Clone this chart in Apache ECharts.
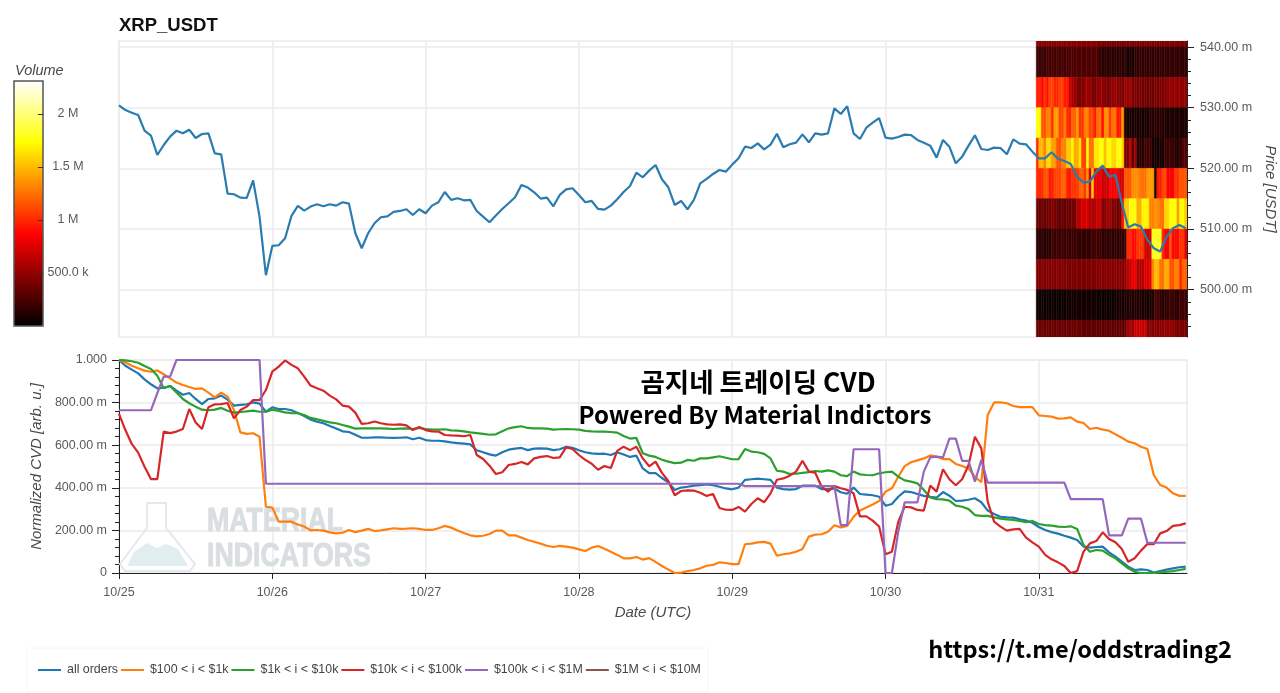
<!DOCTYPE html>
<html>
<head>
<meta charset="utf-8">
<style>html,body{margin:0;padding:0;background:#fff}#chart{width:1280px;height:693px}</style>
<script src="https://cdn.jsdelivr.net/npm/echarts@6/dist/echarts.min.js"></script>
</head>
<body>
<div id="chart"></div>
<script>
const T0 = Date.UTC(2024, 9, 25);
const HOUR = 3600000;
const DAY = 24 * HOUR;
const TEND = T0 + 167.2 * HOUR;
const days = [0, 1, 2, 3, 4, 5, 6].map(d => T0 + d * DAY);

// hourly price, milli USDT
const price = [530.39,529.62,529.18,528.80,526.22,525.39,522.21,523.85,525.23,526.22,525.78,526.38,525.01,525.67,525.78,522.48,522.32,515.84,515.73,515.18,515.12,518.03,512.05,502.38,
  507.22,507.33,508.48,512.16,513.81,513.04,513.70,514.08,513.75,514.08,513.86,514.41,514.19,509.30,506.83,509.30,510.95,511.94,512.10,512.82,512.98,513.26,512.32,513.26,
  512.60,513.86,514.41,516.11,514.80,515.07,514.74,514.80,512.98,512.05,511.12,512.22,513.31,514.25,515.24,517.27,516.83,516.06,515.02,515.18,513.75,515.62,516.55,516.72,
  515.62,514.41,514.63,513.31,513.20,513.86,514.91,516.11,517.10,519.30,518.53,519.63,520.56,518.20,516.88,513.97,514.63,513.26,514.80,517.54,518.26,519.08,519.74,519.46,
  520.62,521.66,523.58,523.36,524.13,523.14,523.91,525.72,523.47,523.97,524.24,525.61,524.30,525.78,525.56,525.78,529.90,528.96,530.23,525.78,524.84,526.71,527.54,528.30,
  525.06,524.90,525.17,525.56,525.50,524.68,524.24,523.75,521.77,524.68,523.58,520.84,521.93,523.75,525.45,523.20,523.03,523.42,523.36,522.32,524.79,524.08,523.97,522.76,
  521.66,521.66,522.65,521.60,521.22,520.73,518.64,517.65,517.82,519.46,520.45,518.64,518.91,514.25,510.24,510.79,510.40,508.21,506.83,506.28,508.76,510.13,510.68,510.13];

// normalized CVD, hourly, milli units
const allOrders = [1000,973,955,937,909,886,867,870,878,856,837,845,817,793,817,820,833,814,786,789,792,801,795,757,
  778,770,770,764,751,737,720,710,703,690,678,665,662,649,635,635,637,637,635,634,635,637,628,635,
  624,621,621,618,613,610,607,604,576,567,557,551,567,579,584,587,577,584,585,584,577,581,592,588,
  576,567,562,559,560,554,567,556,545,551,491,469,469,446,426,390,401,405,410,413,416,412,405,397,
  393,401,437,440,443,440,437,401,394,391,394,410,410,410,394,394,397,379,372,401,371,368,365,358,
  316,324,358,383,380,371,362,357,354,380,363,338,340,344,351,332,293,277,264,261,260,252,246,236,
  216,202,192,185,175,166,155,124,119,122,124,97,77,53,30,14,17,14,2,9,16,22,27,30];
const o100 = [1000,989,973,961,950,945,951,933,914,894,883,873,864,867,847,825,847,828,765,660,653,656,640,311,
  307,241,241,241,228,218,200,202,199,191,186,189,202,192,199,207,197,200,205,210,207,208,210,207,
  202,202,210,221,213,200,188,177,172,175,183,199,199,177,177,166,155,147,138,128,122,127,124,119,
  111,103,119,127,114,100,85,69,69,75,63,70,52,33,16,0,2,9,14,22,34,38,50,47,
  42,42,135,138,144,146,138,81,88,92,100,113,171,180,182,194,224,214,221,264,293,308,322,338,
  382,398,452,502,520,529,538,552,546,535,535,512,502,491,452,426,742,801,801,797,784,779,779,779,
  740,737,734,725,726,731,711,704,676,682,673,668,651,635,617,609,593,582,460,413,401,374,362,362];
const o1k = [1000,998,994,987,972,958,926,867,878,848,817,797,781,767,764,767,775,762,753,756,759,762,757,757,
  767,761,754,751,750,742,728,721,714,707,703,695,687,678,679,679,679,679,678,676,678,679,676,681,
  676,673,673,675,670,668,665,660,657,653,649,651,665,679,685,689,681,679,679,678,673,675,676,675,
  673,667,665,664,664,662,659,643,631,634,562,551,545,532,523,516,518,531,527,538,538,543,548,541,
  534,535,582,570,567,559,538,480,476,465,466,470,474,479,476,482,476,459,455,476,463,460,459,468,
  473,476,452,435,429,421,390,355,347,346,340,316,311,300,272,268,268,261,255,252,249,244,239,244,
  230,225,222,218,216,219,207,131,100,108,105,85,69,45,22,6,0,0,0,3,6,9,14,19];
const o10k = [747,671,606,565,499,441,441,664,657,664,676,770,707,676,778,792,793,798,726,765,781,812,812,859,
  945,969,998,977,961,922,880,867,856,833,815,786,781,753,700,703,711,703,698,696,698,693,671,685,
  671,665,664,648,646,645,642,648,554,535,504,465,473,507,512,521,510,538,545,549,540,543,590,582,
  554,531,513,485,502,493,573,593,577,593,538,501,523,470,432,365,385,388,387,377,362,371,305,297,
  296,310,288,324,351,332,374,438,444,457,476,527,476,471,405,382,408,398,390,374,266,266,246,218,
  88,100,241,311,308,296,293,410,382,487,440,412,440,507,640,585,335,241,218,199,205,207,166,144,
  124,85,64,50,33,0,9,100,139,150,191,160,144,113,53,69,105,136,135,186,197,221,225,233];
// step-like series, read as [hour, value] at its corners
const o100k = [[0,764],[5,764],[6,844],[7,922],[8,922],[9,1000],[22,1000],[23,419],[97,419],[98,408],[112,408],[113,225],[114,225],[115,581],[119,581],[120,0],[121,0],[122,194],[123,332],[125,332],[126,476],[127,543],[128,546],[129,543],[130,631],[131,631],[132,526],[133,526],[134,429],[135,531],[136,424],[148,424],[149,347],[154,347],[155,177],[157,177],[158,255],[160,255],[161,142],[167,142]];
// no visible line for this bucket in the picture, legend entry only
const o1m = [];

// order book volume, [cells, volume in M] runs per 5 m price band, left to right
const HEAT_START = 143.6;
const HEAT_CELLS = 60;
const heatRows = [
  [540, [[24,.46],[12,.40],[24,.42]]],
  [535, [[4,.2],[9,.24],[12,.27],[11,.15],[3,.09],[21,.17]]],
  [530, [[1,.95],[1,1.0],[1,.85],[1,1.05],[1,.9],[2,1.1],[2,1.0],[2,1.08],[2,.95],[1,.7],[2,.55],[3,.42],[3,.52],[2,.4],[3,.5],[3,.42],[3,.5],[2,.42],[3,.52],[4,.42],[5,.38],[5,.42],[8,.5]]],
  [525, [[2,1.75],[2,1.15],[2,1.3],[1,1.0],[2,1.4],[2,1.1],[1,1.3],[2,1.0],[2,1.2],[1,1.4],[2,1.05],[2,1.3],[2,1.1],[1,.95],[2,1.25],[1,.9],[2,1.35],[1,1.05],[2,1.25],[2,.95],[1,1.4],[10,.09],[6,.14],[9,.1]]],
  [520, [[1,1.0],[2,1.5],[1,1.3],[2,1.6],[2,1.4],[2,1.15],[2,1.3],[2,1.55],[1,1.7],[2,1.45],[1,1.65],[2,1.1],[1,1.75],[2,1.25],[2,1.65],[2,1.75],[1,1.5],[2,1.72],[2,1.6],[2,1.75],[1,1.6],[2,.42],[1,.62],[1,.3],[1,.55],[3,.14],[3,.22],[5,.08],[4,.2],[3,.14],[2,.3]]],
  [515, [[3,1.0],[2,1.15],[2,.95],[3,1.1],[2,1.2],[2,.95],[3,1.05],[2,1.2],[1,1.05],[1,1.35],[1,.7],[1,1.55],[3,.8],[3,.7],[4,.85],[2,.72],[3,1.15],[3,1.35],[3,1.25],[3,1.4],[1,.1],[2,.95],[2,1.1],[3,.85],[2,1.05],[3,1.15]]],
  [510, [[5,.36],[3,.42],[4,.34],[4,.38],[2,.62],[3,.72],[3,.6],[2,.68],[2,.45],[2,.55],[2,.42],[2,.38],[1,.9],[2,1.55],[3,1.75],[2,1.45],[3,1.7],[2,1.3],[2,1.35],[2,1.25],[2,1.6],[3,1.75],[1,1.4],[2,1.72],[1,1.55]]],
  [505, [[6,.14],[10,.2],[6,.17],[4,.22],[9,.16],[1,.17],[2,1.0],[2,.9],[3,1.05],[3,.7],[4,1.8],[1,1.0],[2,.85],[1,1.15],[3,.9],[2,1.05],[1,.8]]],
  [500, [[12,.44],[12,.42],[12,.46],[2,.65],[2,.8],[3,.6],[3,.75],[1,1.3],[2,1.5],[2,1.25],[2,1.45],[2,1.15],[2,1.3],[1,1.0],[2,1.2]]],
  [495, [[12,.05],[12,.07],[8,.05],[4,.09],[6,.12],[4,.09],[1,.11],[2,.25],[3,.14],[3,.2],[2,.15],[3,.22]]],
  [490, [[18,.36],[18,.33],[3,.55],[5,.68],[6,.46],[5,.5],[5,.42]]]
];

const heatData = [];
const cellHours = (167.2 - HEAT_START) / HEAT_CELLS;
heatRows.forEach(([low, runs]) => {
  let c = 0;
  runs.forEach(([n, vol]) => {
    for (let k = 0; k < n; k++, c++) {
      const t = T0 + (HEAT_START + c * cellHours) * HOUR;
      heatData.push([t, t + cellHours * HOUR, low, low + 5, vol * 1e6]);
    }
  });
});

const hourly = arr => arr.map((v, i) => [T0 + i * HOUR, v]);
const corners = arr => arr.map(p => [T0 + p[0] * HOUR, p[1]]);

const labelColor = '#5a5a5a';
const labelFont = { color: labelColor, fontSize: 12.5, fontFamily: 'Liberation Sans' };
const nameFont = { color: '#4a4a4a', fontSize: 15, fontStyle: 'italic', fontFamily: 'Liberation Sans' };
const gridLine = { show: true, lineStyle: { color: '#ebebeb', width: 1.5 } };
const dayLabel = v => {
  const d = new Date(v);
  return (d.getUTCMonth() + 1) + '/' + d.getUTCDate();
};
const milli = v => v.toFixed(2) + ' m';

function cvdSeries(name, data, color) {
  return {
    name: name,
    type: 'line',
    xAxisIndex: 1,
    yAxisIndex: 2,
    data: data,
    symbol: 'none',
    lineStyle: { color: color, width: 2.2 },
    itemStyle: { color: color },
    z: 3
  };
}

const option = {
  backgroundColor: '#ffffff',
  animation: false,
  textStyle: { fontFamily: 'Liberation Sans' },
  grid: [
    { left: 119, top: 41, width: 1068, height: 296, outerBoundsMode: 'none', show: true, borderColor: '#ebebeb', borderWidth: 1.5, z: 0 },
    { left: 119, top: 360, width: 1068, height: 213, outerBoundsMode: 'none', show: true, borderColor: '#ebebeb', borderWidth: 1.5, z: 0 },
    { left: 14, top: 81, width: 29, height: 245, outerBoundsMode: 'none', show: true, borderColor: '#555', borderWidth: 1.5, backgroundColor: 'transparent', z: 6 }
  ],
  xAxis: [
    {
      type: 'value', gridIndex: 0, min: T0, max: TEND,
      axisLine: { show: false },
      axisTick: { show: false, customValues: days },
      axisLabel: { show: false, customValues: days },
      splitLine: gridLine
    },
    {
      type: 'value', gridIndex: 1, min: T0, max: TEND,
      name: 'Date (UTC)', nameLocation: 'middle', nameGap: 32, nameTextStyle: nameFont,
      axisLine: { lineStyle: { color: '#222', width: 1 } },
      axisTick: { length: 6, lineStyle: { color: '#222' }, customValues: days },
      axisLabel: Object.assign({ margin: 13, formatter: dayLabel, customValues: days }, labelFont),
      splitLine: gridLine
    },
    { type: 'value', gridIndex: 2, min: 0, max: 1, show: false }
  ],
  yAxis: [
    {
      type: 'value', gridIndex: 0, position: 'right', min: 492.2, max: 541,
      name: 'Price [USDT]', nameLocation: 'middle', nameRotate: -90, nameGap: 75, nameTextStyle: nameFont,
      axisLine: { show: true, lineStyle: { color: '#222' } },
      axisTick: { show: true, length: 7, lineStyle: { color: '#222' }, customValues: [500, 510, 520, 530, 540] },
      axisLabel: Object.assign({ margin: 13, formatter: milli, customValues: [500, 510, 520, 530, 540] }, labelFont),
      splitLine: gridLine
    },
    {
      // minor ticks of the price axis
      type: 'value', gridIndex: 0, position: 'right', offset: 0, min: 492.2, max: 541,
      axisLine: { show: false },
      axisTick: { show: true, length: 4, lineStyle: { color: '#222' }, customValues: [494, 496, 498, 502, 504, 506, 508, 512, 514, 516, 518, 522, 524, 526, 528, 532, 534, 536, 538] },
      axisLabel: { show: false },
      splitLine: { show: false }
    },
    {
      type: 'value', gridIndex: 1, min: 0, max: 1000, interval: 200,
      name: 'Normalized CVD [arb. u.]', nameLocation: 'middle', nameGap: 71, nameTextStyle: nameFont,
      axisLine: { show: true, lineStyle: { color: '#222' } },
      axisTick: { show: true, length: 7, lineStyle: { color: '#222' } },
      minorTick: { show: true, splitNumber: 5, length: 4, lineStyle: { color: '#222' } },
      axisLabel: Object.assign({
        margin: 12,
        formatter: v => v === 1000 ? '1.000' : v === 0 ? '0' : milli(v)
      }, labelFont),
      splitLine: gridLine
    },
    {
      // tick scale of the colour bar
      type: 'value', gridIndex: 2, position: 'right', min: 0, max: 2310000, z: 8,
      axisLine: { show: false, onZero: false },
      axisTick: { show: true, inside: true, length: 5, lineStyle: { color: '#333' }, customValues: [500000, 1000000, 1500000, 2000000] },
      axisLabel: Object.assign({
        margin: 25, align: 'center',
        customValues: [500000, 1000000, 1500000, 2000000],
        formatter: v => v === 500000 ? '500.0 k' : (v / 1000000) + ' M'
      }, labelFont),
      splitLine: { show: false }
    }
  ],
  visualMap: {
    type: 'continuous',
    seriesIndex: 0,
    dimension: 4,
    min: 0,
    max: 2310000,
    left: 14,
    top: 81,
    padding: 0,
    itemWidth: 29,
    itemHeight: 245,
    calculable: false,
    inRange: { color: ['#000000', '#550000', '#aa0000', '#ff0000', '#ff5500', '#ffaa00', '#ffff00', '#ffff80', '#ffffff'] }
  },
  legend: {
    left: 27,
    top: 648,
    padding: [16, 7, 16, 10],
    borderColor: '#f6f6f6',
    borderWidth: 1,
    itemWidth: 23,
    itemHeight: 14,
    itemGap: 2,
    itemStyle: { opacity: 0 },
    textStyle: { color: '#444', fontSize: 12.4, fontFamily: 'Liberation Sans', padding: [0, 0, 0, 1] },
    data: ['all orders', '$100 < i < $1k', '$1k < i < $10k', '$10k < i < $100k', '$100k < i < $1M', '$1M < i < $10M']
  },
  graphic: [
    { type: 'text', z: 5, style: { x: 119, y: 16, text: 'XRP_USDT', font: 'bold 18.5px "Liberation Sans"', fill: '#111' } },
    { type: 'text', z: 5, style: { x: 15, y: 63, text: 'Volume', font: 'italic 14.5px "Liberation Sans"', fill: '#4a4a4a' } },
    // flask watermark
    { type: 'polygon', z: 1, shape: { points: [[147,503],[166,503],[166,528],[195,564],[190,571],[125,571],[120,564],[147,528]] }, style: { fill: 'none', stroke: '#e6e9eb', lineWidth: 2 } },
    { type: 'polygon', z: 1, shape: { points: [[127,566],[134,552],[147,543],[157,548],[166,544],[178,549],[188,566]] }, style: { fill: '#e2edf0' } },
    { type: 'text', z: 1, x: 207, y: 505, scaleX: 0.81, style: { text: 'MATERIAL', font: 'bold 33px "Liberation Sans"', fill: '#d9dee1', stroke: '#d9dee1', lineWidth: 1 } },
    { type: 'text', z: 1, x: 207, y: 540, scaleX: 0.81, style: { text: 'INDICATORS', font: 'bold 33px "Liberation Sans"', fill: '#d9dee1', stroke: '#d9dee1', lineWidth: 1 } },
    // captions pasted on the picture
    { type: 'text', z: 7, style: { x: 758, y: 382, text: '곰지네 트레이딩 CVD', align: 'center', verticalAlign: 'middle', font: 'bold 26.5px "Noto Sans CJK KR"', fill: '#000' } },
    { type: 'text', z: 7, style: { x: 755, y: 415, text: 'Powered By Material Indictors', align: 'center', verticalAlign: 'middle', font: 'bold 24px "Noto Sans CJK KR"', fill: '#000' } },
    { type: 'text', z: 7, style: { x: 1080, y: 649, text: 'https://t.me/oddstrading2', align: 'center', verticalAlign: 'middle', font: 'bold 23.5px "Noto Sans CJK KR"', fill: '#000' } }
  ],
  series: [
    {
      name: 'volume',
      type: 'custom',
      xAxisIndex: 0,
      yAxisIndex: 0,
      clip: true,
      encode: { x: [0, 1], y: [2, 3] },
      data: heatData,
      renderItem: function (params, api) {
        const p0 = api.coord([api.value(0), api.value(3)]);
        const p1 = api.coord([api.value(1), api.value(2)]);
        const c = api.visual('color');
        return {
          type: 'rect',
          shape: { x: p0[0], y: p0[1], width: p1[0] - p0[0], height: p1[1] - p0[1] },
          style: { fill: c, stroke: c, lineWidth: 0.5 }
        };
      },
      z: 2
    },
    {
      name: 'price',
      type: 'line',
      xAxisIndex: 0,
      yAxisIndex: 0,
      data: hourly(price),
      symbol: 'none',
      lineStyle: { color: '#2b7bb0', width: 2.2 },
      z: 3
    },
    cvdSeries('all orders', hourly(allOrders), '#1f77b4'),
    cvdSeries('$100 < i < $1k', hourly(o100), '#ff7f0e'),
    cvdSeries('$1k < i < $10k', hourly(o1k), '#2ca02c'),
    cvdSeries('$10k < i < $100k', hourly(o10k), '#d62728'),
    cvdSeries('$100k < i < $1M', corners(o100k), '#9467bd'),
    cvdSeries('$1M < i < $10M', o1m, '#8c564b')
  ]
};

const myChart = echarts.init(document.getElementById('chart'));
myChart.setOption(option);
</script>
</body>
</html>
